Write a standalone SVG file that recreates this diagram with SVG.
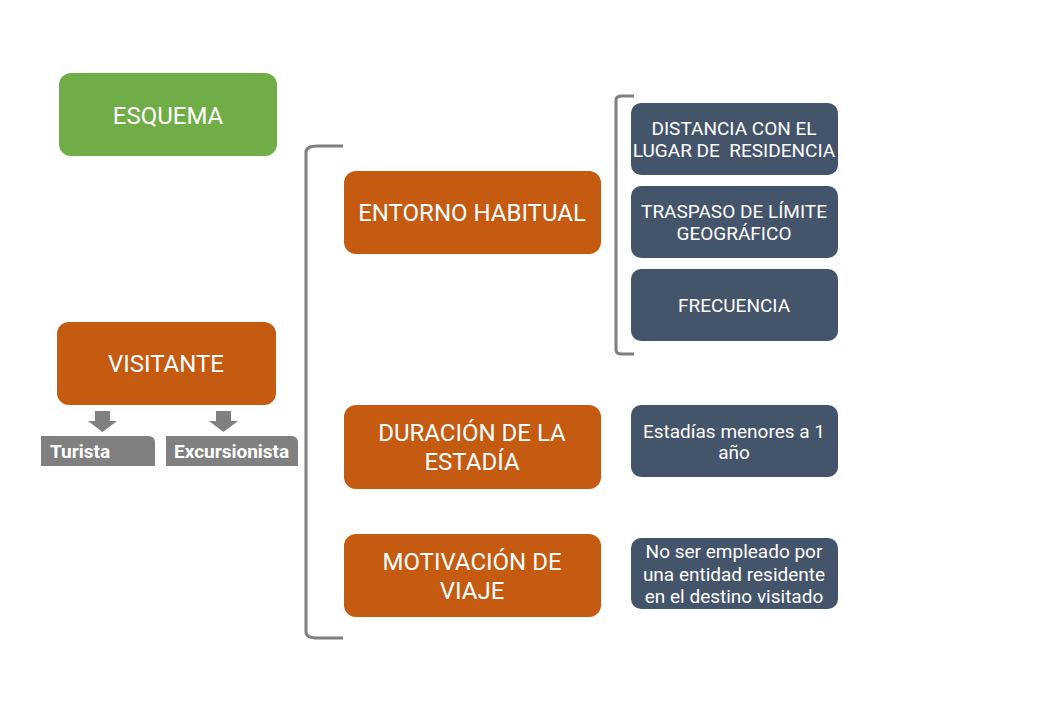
<svg xmlns="http://www.w3.org/2000/svg" width="1040" height="720" viewBox="0 0 1040 720">
<style>
.t{font-family:Roboto,"Liberation Sans",sans-serif;fill:#fff;text-anchor:middle}
.big{font-size:24px}
.sm{font-size:19px}
.lbl{font-family:Roboto,"Liberation Sans",sans-serif;fill:#fff;font-size:19px;font-weight:bold}
.org{fill:#C55A11}
.dk{fill:#44546A}
.gr{fill:#808080}
.br{fill:none;stroke:#7F7F7F;stroke-width:3}
</style>
<rect width="1040" height="720" fill="#fff"/>
<g id="esquema"><rect x="59" y="73" width="218" height="83" rx="12" fill="#70AD47"/><text class="t big" x="168" y="123.5">ESQUEMA</text></g>
<g id="visitante"><rect class="org" x="57" y="322" width="219" height="83" rx="12"/><text class="t big" x="166" y="372">VISITANTE</text></g>
<g id="turista"><path class="gr" d="M41 436H149a6 6 0 0 1 6 6V466H41Z"/><text class="lbl" x="50" y="458">Turista</text></g>
<g id="excursionista"><path class="gr" d="M166 436H292a6 6 0 0 1 6 6V466H166Z"/><text class="lbl" x="174" y="458">Excursionista</text></g>
<g id="entorno"><rect class="org" x="344" y="171" width="257" height="83" rx="12"/><text class="t big" x="472" y="221">ENTORNO HABITUAL</text></g>
<g id="duracion"><rect class="org" x="344" y="405" width="257" height="84" rx="12"/><text class="t big" x="472" y="441">DURACIÓN DE LA</text><text class="t big" x="472" y="470">ESTADÍA</text></g>
<g id="motivacion"><rect class="org" x="344" y="534" width="257" height="83" rx="12"/><text class="t big" x="472" y="570">MOTIVACIÓN DE</text><text class="t big" x="472" y="599">VIAJE</text></g>
<g id="distancia"><rect class="dk" x="631" y="103" width="207" height="72" rx="10"/><text class="t sm" x="734" y="135">DISTANCIA CON EL</text><text class="t sm" x="734" y="157" xml:space="preserve">LUGAR DE  RESIDENCIA</text></g>
<g id="traspaso"><rect class="dk" x="631" y="186" width="207" height="72" rx="10"/><text class="t sm" x="734" y="218">TRASPASO DE LÍMITE</text><text class="t sm" x="734" y="240">GEOGRÁFICO</text></g>
<g id="frecuencia"><rect class="dk" x="631" y="269" width="207" height="72" rx="10"/><text class="t sm" x="734" y="312">FRECUENCIA</text></g>
<g id="estadias"><rect class="dk" x="631" y="405" width="207" height="72" rx="10"/><text class="t sm" x="734" y="438">Estadías menores a 1</text><text class="t sm" x="734" y="459">año</text></g>
<g id="noser"><rect class="dk" x="631" y="538" width="207" height="71" rx="10"/><text class="t sm" x="734" y="558">No ser empleado por</text><text class="t sm" x="734" y="581">una entidad residente</text><text class="t sm" x="734" y="603">en el destino visitado</text></g>
<g id="connectors">
<path class="gr" d="M95 411H110V421H117L102.5 432L88 421H95Z"/>
<path class="gr" d="M216 411H231V421H238L223.5 432L209 421H216Z"/>
<path class="br" d="M343 146H318Q306 146 306 152V632Q306 638 318 638H343"/>
<path class="br" d="M634 96H622Q616 96 616 100V350Q616 354 622 354H634"/>
</g>
</svg>
